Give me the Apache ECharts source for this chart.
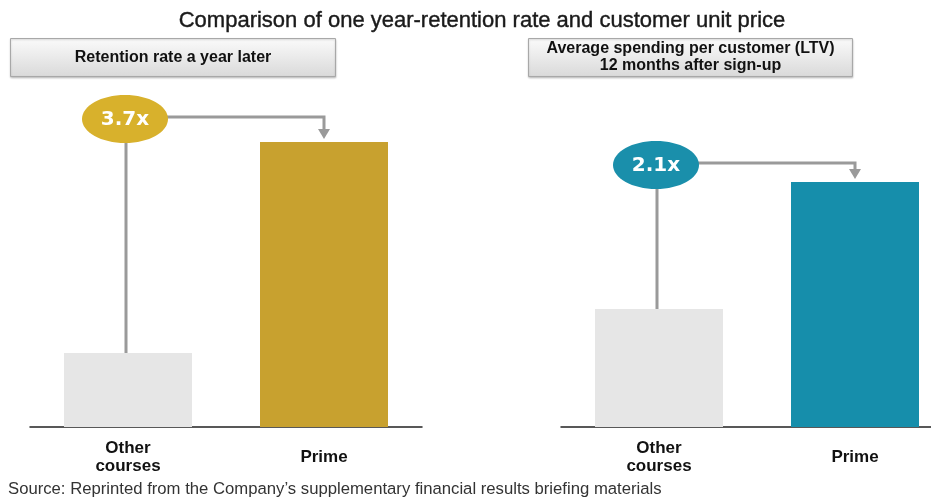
<!DOCTYPE html>
<html>
<head>
<meta charset="utf-8">
<script src="https://cdn.jsdelivr.net/npm/echarts@6/dist/echarts.min.js"></script>
<style>
  html, body { margin: 0; padding: 0; background: #fff; }
  #chart { width: 931px; height: 504px; }
</style>
</head>
<body>
<div id="chart"></div>
<script>
// values (relative bar heights)
const categories = ["Other\ncourses", "Prime"];
const retention = [74, 285];
const ltv = [118, 245];
const multiples = ["3.7x", "2.1x"];
const panelTitles = ["Retention rate a year later", "Average spending per customer (LTV)\n12 months after sign-up"];

const chart = echarts.init(document.getElementById("chart"));

const font = "Liberation Sans, Arial, sans-serif";
const primeColors = ["#c8a12f", "#168eab"];
const badgeColors = ["#d8b12c", "#1a8fab"];

function bars(data, idx) {
  return {
    type: "bar",
    xAxisIndex: idx,
    yAxisIndex: idx,
    barWidth: 128,
    data: data.map((v, i) => ({
      value: v,
      itemStyle: { color: i === 0 ? "#e6e6e6" : primeColors[idx] },
    })),
    silent: true,
  };
}

function xAxis(idx) {
  return {
    type: "category",
    gridIndex: idx,
    data: categories,
    axisLine: { lineStyle: { color: "#222", width: 1.5 } },
    axisTick: { show: false },
    axisLabel: {
      margin: 30,
      verticalAlign: "middle",
      color: "#111",
      fontFamily: font,
      fontWeight: "bold",
      fontSize: 17,
      lineHeight: 18,
    },
  };
}

function yAxis(idx) {
  return { type: "value", gridIndex: idx, min: 0, max: 300, show: false };
}

function headerBox(x, w, text) {
  return {
    type: "group",
    left: x,
    top: 38,
    children: [
      {
        type: "rect",
        shape: { x: 0, y: 0, width: w, height: 38 },
        style: {
          fill: new echarts.graphic.LinearGradient(0, 0, 0, 1, [
            { offset: 0, color: "#fbfbfb" },
            { offset: 1, color: "#d9d9d9" },
          ]),
          stroke: "#a8a8a8",
          lineWidth: 1,
          shadowColor: "rgba(0,0,0,0.2)",
          shadowBlur: 2,
          shadowOffsetY: 1,
        },
      },
      {
        type: "text",
        x: w / 2,
        y: 19,
        style: {
          text: text,
          fill: "#111",
          font: "bold 16px " + font,
          lineHeight: 17,
          align: "center",
          verticalAlign: "middle",
        },
      },
    ],
  };
}

const option = {
  animation: false,
  title: {
    text: "Comparison of one year-retention rate and customer unit price",
    left: 477,
    textAlign: "center",
    top: 5,
    textStyle: { fontFamily: font, fontSize: 22, fontWeight: "normal", color: "#1a1a1a", textBorderColor: "#1a1a1a", textBorderWidth: 0.4 },
  },
  grid: [
    { left: 30, width: 392, top: 127, height: 300, outerBoundsMode: "none" },
    { left: 561, width: 392, top: 127, height: 300, outerBoundsMode: "none" },
  ],
  xAxis: [xAxis(0), xAxis(1)],
  yAxis: [yAxis(0), yAxis(1)],
  series: [bars(retention, 0), bars(ltv, 1)],
  graphic: [
    headerBox(10, 325, panelTitles[0]),
    headerBox(528, 324, panelTitles[1]),
    {
      type: "text",
      left: 8,
      top: 481,
      style: { text: "Source: Reprinted from the Company\u2019s supplementary financial results briefing materials", fill: "#333", font: "16.7px " + font },
    },
  ],
};

chart.setOption(option);

// connector + ratio badge, placed from the bars' own pixel positions
const gaps = [25, 19];
const extra = [];
[retention, ltv].forEach((data, idx) => {
  const other = chart.convertToPixel({ gridIndex: idx }, [0, data[0]]);
  const prime = chart.convertToPixel({ gridIndex: idx }, [1, data[1]]);
  const hy = prime[1] - gaps[idx];
  const tip = prime[1] - 3;
  extra.push({
    type: "polyline",
    shape: { points: [[other[0] - 2, other[1]], [other[0] - 2, hy], [prime[0], hy], [prime[0], tip - 8]] },
    style: { stroke: "#9a9a9a", lineWidth: 3, fill: null },
    z: 10,
  });
  extra.push({
    type: "polygon",
    shape: { points: [[prime[0] - 6, tip - 10], [prime[0] + 6, tip - 10], [prime[0], tip]] },
    style: { fill: "#9a9a9a" },
    z: 10,
  });
  extra.push({
    type: "ellipse",
    shape: { cx: other[0] - 3, cy: hy + 2, rx: 43, ry: 24 },
    style: { fill: badgeColors[idx] },
    z: 11,
  });
  extra.push({
    type: "text",
    x: other[0] - 3,
    y: hy + 3,
    style: {
      text: multiples[idx],
      fill: "#fff",
      font: "bold 20px DejaVu Sans, sans-serif",
      align: "center",
      verticalAlign: "middle",
    },
    z: 12,
  });
});

chart.setOption({ graphic: option.graphic.concat(extra) });
</script>
</body>
</html>
